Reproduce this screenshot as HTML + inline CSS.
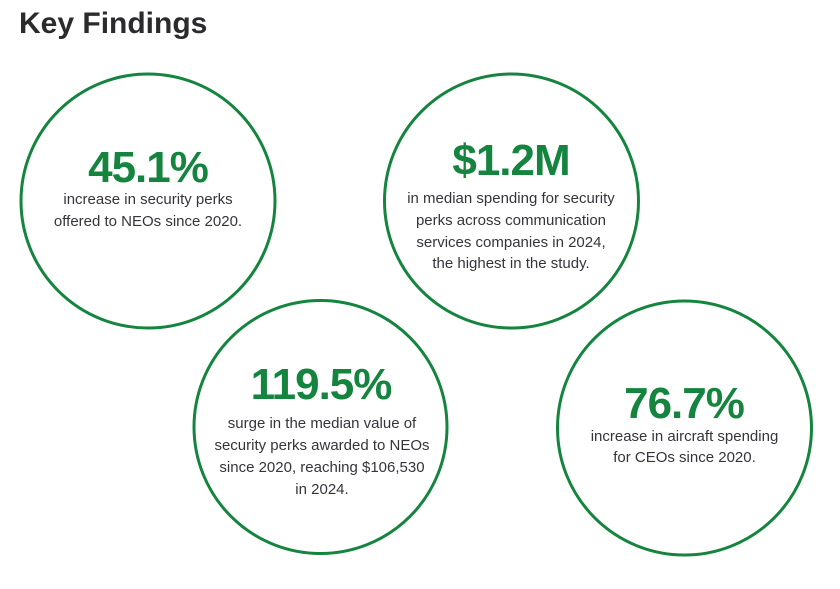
<!DOCTYPE html>
<html>
<head>
<meta charset="utf-8">
<style>
  html, body { margin: 0; padding: 0; background: #ffffff; }
  body { width: 840px; height: 589px; overflow: hidden; }
  svg { display: block; }
  .title { font-family: "Liberation Sans", sans-serif; font-weight: bold; font-size: 30px; fill: #2b2b2d; }
  .big { font-family: "Liberation Sans", sans-serif; font-weight: bold; font-size: 44px; fill: #15843f; letter-spacing: -1px; }
  .body { font-family: "Liberation Sans", sans-serif; font-size: 15px; fill: #34343c; }
  circle { fill: none; stroke: #15843f; stroke-width: 3; }
</style>
</head>
<body>
<svg width="840" height="589" viewBox="0 0 840 589" xmlns="http://www.w3.org/2000/svg">
  <text class="title" x="19" y="33">Key Findings</text>

  <circle cx="148" cy="201" r="127"/>
  <text class="big" x="148" y="182" text-anchor="middle">45.1%</text>
  <text class="body" x="148" y="204" text-anchor="middle">increase in security perks</text>
  <text class="body" x="148" y="226" text-anchor="middle">offered to NEOs since 2020.</text>

  <circle cx="511.5" cy="201" r="127"/>
  <text class="big" x="511" y="175" text-anchor="middle">$1.2M</text>
  <text class="body" x="511" y="203" text-anchor="middle">in median spending for security</text>
  <text class="body" x="511" y="225" text-anchor="middle">perks across communication</text>
  <text class="body" x="511" y="247" text-anchor="middle">services companies in 2024,</text>
  <text class="body" x="511" y="268" text-anchor="middle">the highest in the study.</text>

  <circle cx="320.5" cy="427" r="126.5"/>
  <text class="big" x="321" y="399" text-anchor="middle">119.5%</text>
  <text class="body" x="322" y="428" text-anchor="middle">surge in the median value of</text>
  <text class="body" x="322" y="450" text-anchor="middle">security perks awarded to NEOs</text>
  <text class="body" x="322" y="472" text-anchor="middle">since 2020, reaching $106,530</text>
  <text class="body" x="322" y="494" text-anchor="middle">in 2024.</text>

  <circle cx="684.5" cy="428" r="127"/>
  <text class="big" x="684" y="418" text-anchor="middle">76.7%</text>
  <text class="body" x="684.5" y="441" text-anchor="middle">increase in aircraft spending</text>
  <text class="body" x="684.5" y="462" text-anchor="middle">for CEOs since 2020.</text>
</svg>
</body>
</html>
